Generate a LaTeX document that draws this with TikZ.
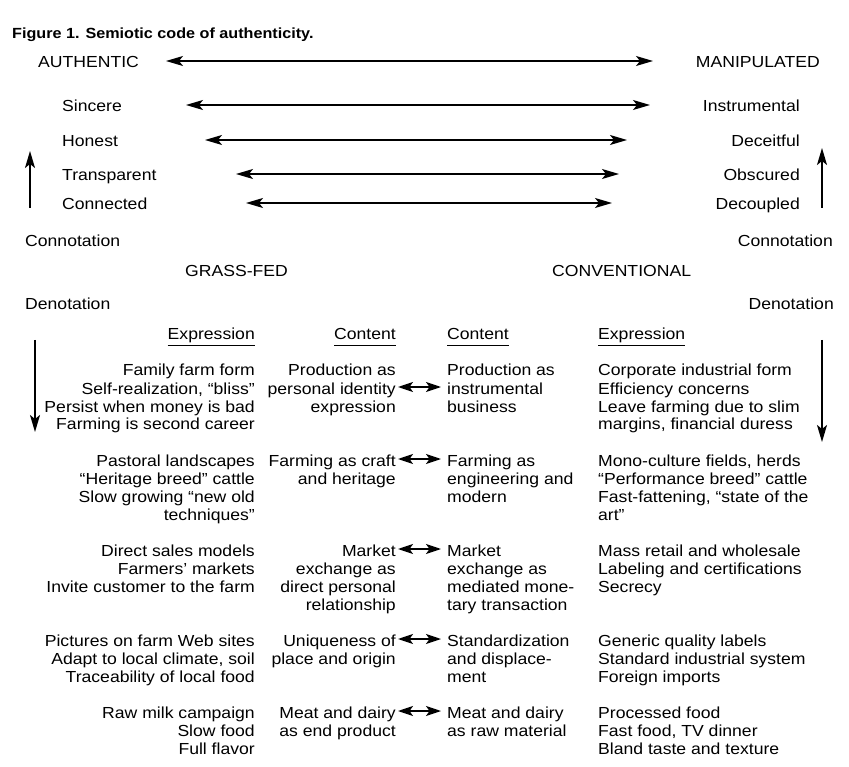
\documentclass[tikz,border=0pt]{standalone}
\usepackage{fontspec}
\setmainfont{Liberation Sans}[FakeStretch=1.1]
\usetikzlibrary{arrows.meta}
\newcommand\rcol[1]{\begin{tabular}[t]{@{}r@{}}#1\end{tabular}}
\newcommand\lcol[1]{\begin{tabular}[t]{@{}l@{}}#1\end{tabular}}
\newcommand\hdr[1]{\underline{#1\vphantom{p}}}
\begin{document}
\begin{tikzpicture}[x=1pt,y=-1pt,
  every node/.style={inner sep=0pt, font=\fontsize{16}{18}\selectfont},
  titlefont/.style={font=\fontsize{14.7}{17}\selectfont\bfseries},
  lab/.style={anchor=base west},
  rlab/.style={anchor=base east},
  dbl/.style={{Stealth[length=17pt,width=10pt,inset=4pt]}-{Stealth[length=17pt,width=10pt,inset=4pt]}, line width=1.4pt},
  shortdbl/.style={{Stealth[length=15pt,width=10pt,inset=3.5pt]}-{Stealth[length=15pt,width=10pt,inset=3.5pt]}, line width=1.4pt},
  vert/.style={-{Stealth[length=17pt,width=10pt,inset=4pt]}, line width=1.7pt}]
\useasboundingbox (0,0) rectangle (849,767);

\node[lab, titlefont] (title) at (12,39) {Figure 1. Semiotic code of authenticity.};

% connotation scale
\node[lab]  (auth)   at (38,68)  {AUTHENTIC};
\node[rlab] (manip)  at (820,68) {MANIPULATED};
\node[lab]  (sinc)   at (62,112) {Sincere};
\node[rlab] (instr)  at (800,112) {Instrumental};
\node[lab]  (hon)    at (62,147) {Honest};
\node[rlab] (dece)   at (800,147) {Deceitful};
\node[lab]  (transp) at (62,181) {Transparent};
\node[rlab] (obsc)   at (800,181) {Obscured};
\node[lab]  (conn)   at (62,210) {Connected};
\node[rlab] (decoup) at (800,210) {Decoupled};

\coordinate (a0l) at (166,61);  \coordinate (a0r) at (653,61);
\coordinate (a1l) at (186,105); \coordinate (a1r) at (650,105);
\coordinate (a2l) at (205,140); \coordinate (a2r) at (627,140);
\coordinate (a3l) at (236,174); \coordinate (a3r) at (619,174);
\coordinate (a4l) at (246,203); \coordinate (a4r) at (612,203);
\draw[dbl] (a0l) -- (a0r);
\draw[dbl] (a1l) -- (a1r);
\draw[dbl] (a2l) -- (a2r);
\draw[dbl] (a3l) -- (a3r);
\draw[dbl] (a4l) -- (a4r);

\coordinate (upLb) at (30,208);  \coordinate (upLt) at (30,151);
\coordinate (upRb) at (822,208); \coordinate (upRt) at (822,148);
\draw[vert] (upLb) -- (upLt);
\draw[vert] (upRb) -- (upRt);

\node[lab]  (cnL) at (25,247)  {Connotation};
\node[rlab] (cnR) at (833,247) {Connotation};
\node[lab]  (gf)  at (185,277) {GRASS-FED};
\node[lab]  (cv)  at (552,277) {CONVENTIONAL};
\node[lab]  (dnL) at (25,310)  {Denotation};
\node[rlab] (dnR) at (834,310) {Denotation};

\coordinate (dnLt) at (35,340);  \coordinate (dnLb) at (35,432);
\coordinate (dnRt) at (822,340); \coordinate (dnRb) at (822,442);
\draw[vert] (dnLt) -- (dnLb);
\draw[vert] (dnRt) -- (dnRb);

% headers
\node[rlab] (h1) at (255,340) {\hdr{Expression}};
\node[rlab] (h2) at (396,340) {\hdr{Content}};
\node[lab]  (h3) at (447,340) {\hdr{Content}};
\node[lab]  (h4) at (598,340) {\hdr{Expression}};

% block 1
\node[rlab] (e1l) at (255,376) {\rcol{Family farm form\\Self-realization, “bliss”\\Persist when money is bad\\Farming is second career}};
\node[rlab] (c1l) at (396,376) {\rcol{Production as\\personal identity\\expression}};
\node[lab]  (c1r) at (447,376) {\lcol{Production as\\instrumental\\business}};
\node[lab]  (e1r) at (598,376) {\lcol{Corporate industrial form\\Efficiency concerns\\Leave farming due to slim\\margins, financial duress}};

% block 2
\node[rlab] (e2l) at (255,466) {\rcol{Pastoral landscapes\\“Heritage breed” cattle\\Slow growing “new old\\techniques”}};
\node[rlab] (c2l) at (396,466) {\rcol{Farming as craft\\and heritage}};
\node[lab]  (c2r) at (447,466) {\lcol{Farming as\\engineering and\\modern}};
\node[lab]  (e2r) at (598,466) {\lcol{Mono-culture fields, herds\\“Performance breed” cattle\\Fast-fattening, “state of the\\art”}};

% block 3
\node[rlab] (e3l) at (255,556) {\rcol{Direct sales models\\Farmers’ markets\\Invite customer to the farm}};
\node[rlab] (c3l) at (396,556) {\rcol{Market\\exchange as\\direct personal\\relationship}};
\node[lab]  (c3r) at (447,556) {\lcol{Market\\exchange as\\mediated mone-\\tary transaction}};
\node[lab]  (e3r) at (598,556) {\lcol{Mass retail and wholesale\\Labeling and certifications\\Secrecy}};

% block 4
\node[rlab] (e4l) at (255,646) {\rcol{Pictures on farm Web sites\\Adapt to local climate, soil\\Traceability of local food}};
\node[rlab] (c4l) at (396,646) {\rcol{Uniqueness of\\place and origin}};
\node[lab]  (c4r) at (447,646) {\lcol{Standardization\\and displace-\\ment}};
\node[lab]  (e4r) at (598,646) {\lcol{Generic quality labels\\Standard industrial system\\Foreign imports}};

% block 5
\node[rlab] (e5l) at (255,718) {\rcol{Raw milk campaign\\Slow food\\Full flavor}};
\node[rlab] (c5l) at (396,718) {\rcol{Meat and dairy\\as end product}};
\node[lab]  (c5r) at (447,718) {\lcol{Meat and dairy\\as raw material}};
\node[lab]  (e5r) at (598,718) {\lcol{Processed food\\Fast food, TV dinner\\Bland taste and texture}};

% content arrows
\coordinate (k1l) at (398,387); \coordinate (k1r) at (441,387);
\coordinate (k2l) at (398,459); \coordinate (k2r) at (441,459);
\coordinate (k3l) at (398,549); \coordinate (k3r) at (441,549);
\coordinate (k4l) at (398,639); \coordinate (k4r) at (441,639);
\coordinate (k5l) at (398,711); \coordinate (k5r) at (441,711);
\draw[shortdbl] (k1l) -- (k1r);
\draw[shortdbl] (k2l) -- (k2r);
\draw[shortdbl] (k3l) -- (k3r);
\draw[shortdbl] (k4l) -- (k4r);
\draw[shortdbl] (k5l) -- (k5r);
\end{tikzpicture}
\end{document}
